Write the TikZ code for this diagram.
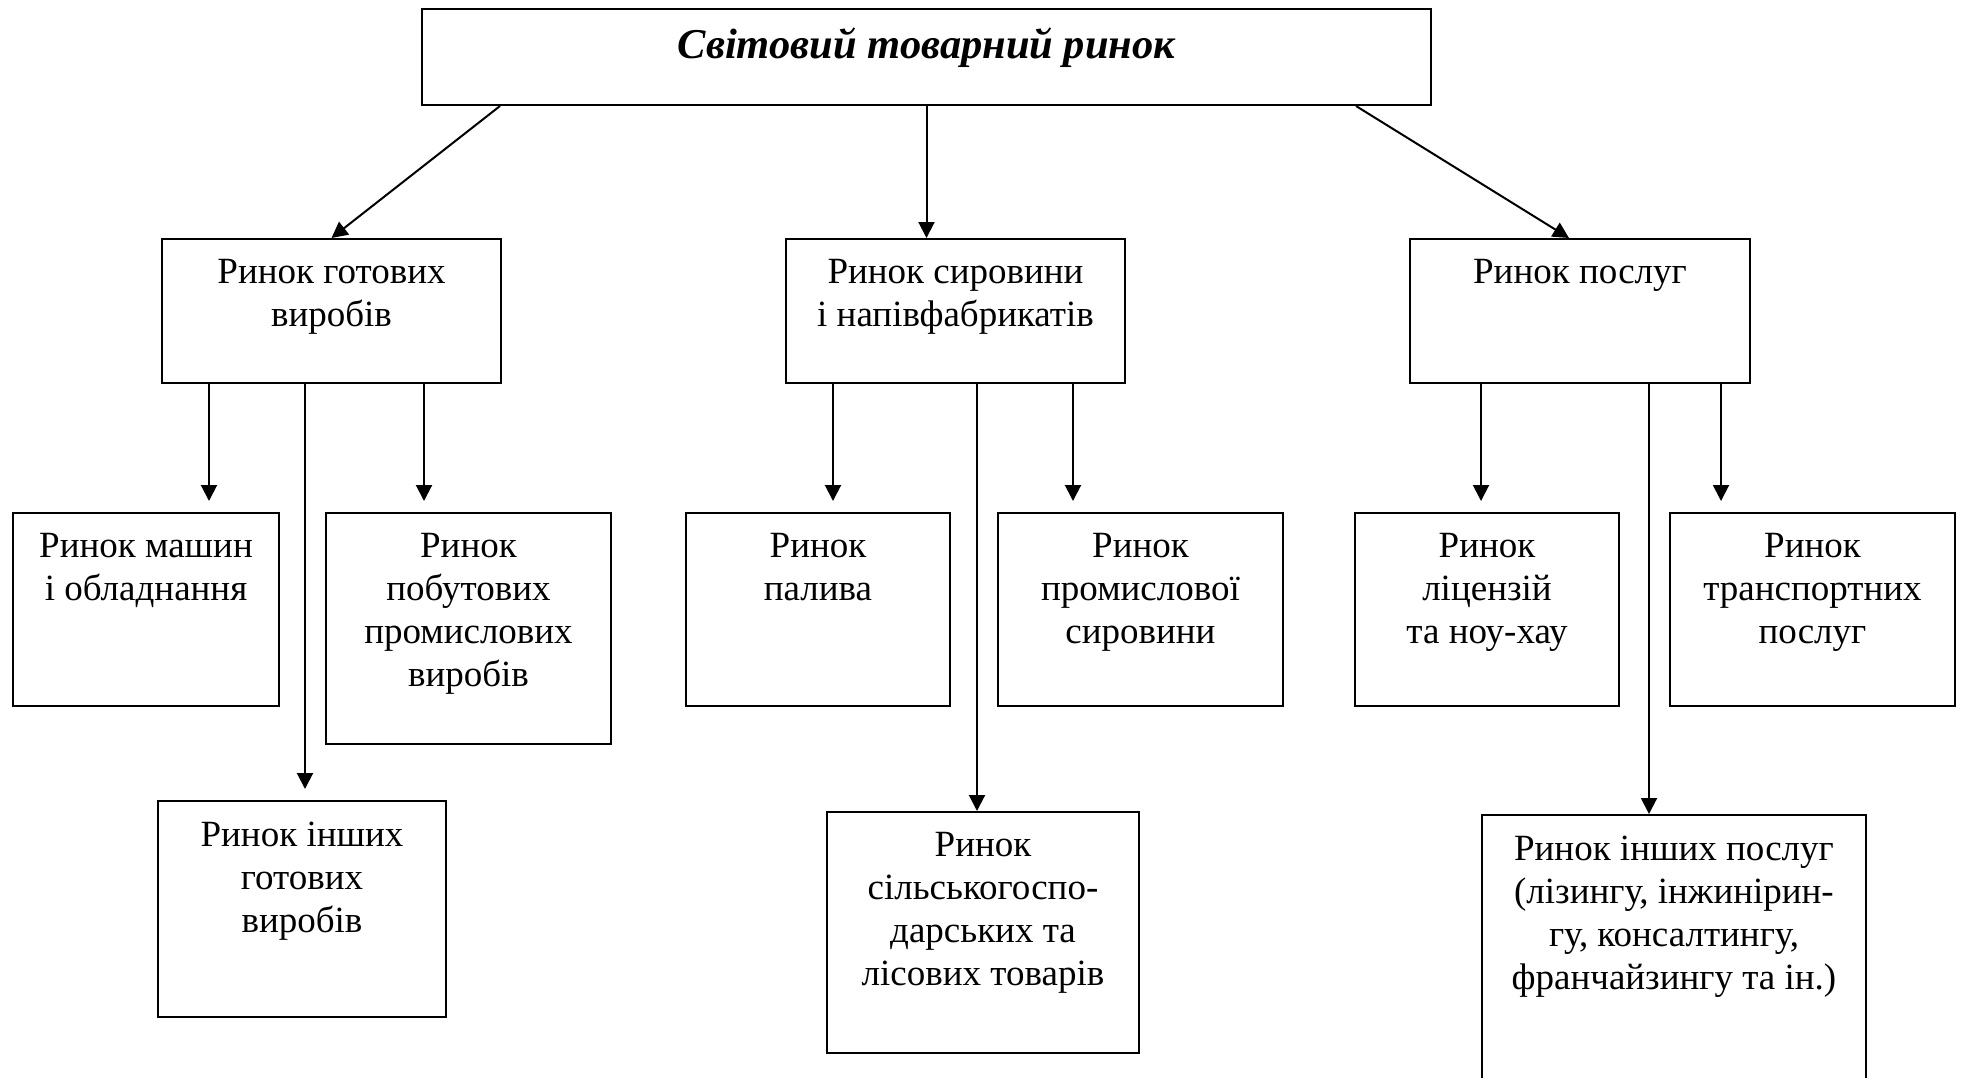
\documentclass[tikz,border=0pt]{standalone}
\usepackage{fontspec}
\setmainfont{Liberation Serif}
\usetikzlibrary{arrows.meta,calc}
\begin{document}
\begin{tikzpicture}[x=1pt,y=-1pt,
  box/.style={draw=black, line width=2pt, rectangle, inner sep=0pt},
  txt/.style={anchor=base, align=center, inner sep=0pt, font=\fontsize{37}{43}\selectfont},
  ttl/.style={anchor=base, align=center, inner sep=0pt, font=\fontsize{42.5}{48}\selectfont\bfseries\itshape},
  arr/.style={line width=2pt, -{Triangle[length=16pt,width=16pt]}},
  gap/.style={shorten >=11pt}]
\useasboundingbox (0,0) rectangle (1962,1077);
\clip (0,0) rectangle (1962,1077);
% level 1
\node[box, minimum width=1009pt, minimum height=96pt] (T) at (926.5,57) {};
\node[ttl] (Tt) at (926.5,58) {Світовий товарний ринок};
% level 2 (text nodes placed at the baseline of their last line)
\node[box, minimum width=339pt, minimum height=144pt] (A) at (331.5,311) {};
\node[txt] (At) at (331.5,326) {Ринок готових\\виробів};
\node[box, minimum width=339pt, minimum height=144pt] (B) at (955.5,311) {};
\node[txt] (Bt) at (955.5,326) {Ринок сировини\\і напівфабрикатів};
\node[box, minimum width=340pt, minimum height=144pt] (C) at (1580,311) {};
\node[txt] (Ct) at (1580,283) {Ринок послуг};
% level 3
\node[box, minimum width=266pt, minimum height=193pt] (A1) at (146,609.5) {};
\node[txt] (A1t) at (146,600) {Ринок машин\\і обладнання};
\node[box, minimum width=285pt, minimum height=231pt] (A2) at (468.5,628.5) {};
\node[txt] (A2t) at (468.5,686) {Ринок\\побутових\\промислових\\виробів};
\node[box, minimum width=288pt, minimum height=216pt] (A3) at (302,909) {};
\node[txt] (A3t) at (302,932) {Ринок інших\\готових\\виробів};
\node[box, minimum width=264pt, minimum height=193pt] (B1) at (818,609.5) {};
\node[txt] (B1t) at (818,600) {Ринок\\палива};
\node[box, minimum width=285pt, minimum height=193pt] (B2) at (1140.5,609.5) {};
\node[txt] (B2t) at (1140.5,643) {Ринок\\промислової\\сировини};
\node[box, minimum width=312pt, minimum height=241pt] (B3) at (983,932.5) {};
\node[txt] (B3t) at (983,985) {Ринок\\сільськогоспо-\\дарських та\\лісових товарів};
\node[box, minimum width=264pt, minimum height=193pt] (C1) at (1487,609.5) {};
\node[txt] (C1t) at (1487,643) {Ринок\\ліцензій\\та ноу-хау};
\node[box, minimum width=285pt, minimum height=193pt] (C2) at (1812.5,609.5) {};
\node[txt] (C2t) at (1812.5,643) {Ринок\\транспортних\\послуг};
\node[box, minimum width=384pt, minimum height=300pt] (C3) at (1674,965) {};
\node[txt] (C3t) at (1674,989) {Ринок інших послуг\\(лізингу, інжинірин-\\гу, консалтингу,\\франчайзингу та ін.)};
% connectors from top
\draw[arr] ([xshift=79pt]T.south west) -- (A.north);
\draw[arr] (T.south) -- (T.south |- B.north);
\draw[arr] ([xshift=-76pt]T.south east) -- ([xshift=-11pt]C.north);
% from A
\draw[arr,gap] ([xshift=48pt]A.south west) -- ([xshift=48pt]A.south west |- A1.north);
\draw[arr,gap] ([xshift=144pt]A.south west) -- ([xshift=144pt]A.south west |- A3.north);
\draw[arr,gap] ([xshift=263pt]A.south west) -- ([xshift=263pt]A.south west |- A2.north);
% from B
\draw[arr,gap] ([xshift=48pt]B.south west) -- ([xshift=48pt]B.south west |- B1.north);
\draw[arr] ([xshift=192pt]B.south west) -- ([xshift=192pt]B.south west |- B3.north);
\draw[arr,gap] ([xshift=288pt]B.south west) -- ([xshift=288pt]B.south west |- B2.north);
% from C
\draw[arr,gap] ([xshift=72pt]C.south west) -- ([xshift=72pt]C.south west |- C1.north);
\draw[arr] ([xshift=240pt]C.south west) -- ([xshift=240pt]C.south west |- C3.north);
\draw[arr,gap] ([xshift=312pt]C.south west) -- ([xshift=312pt]C.south west |- C2.north);
\end{tikzpicture}
\end{document}
